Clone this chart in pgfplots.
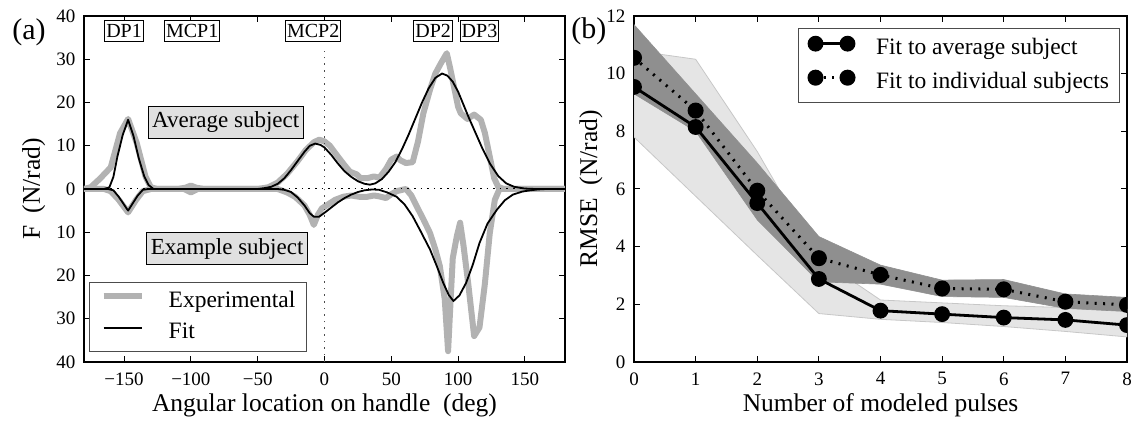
\documentclass[border=0pt]{standalone}
\usepackage{fontspec}
\setmainfont{Liberation Serif}
\usepackage{pgfplots}
\pgfplotsset{compat=1.18}

\definecolor{expgray}{gray}{0.70}
\definecolor{boxgray}{gray}{0.88}
\definecolor{bandlight}{gray}{0.90}
\definecolor{bandedge}{gray}{0.78}
\definecolor{banddark}{gray}{0.56}

\pgfplotsset{
  panel/.style={
    scale only axis, height=173pt,
    axis line style={line width=1pt},
    tick align=inside, major tick length=3pt,
    tick style={black, line width=0.5pt},
    tick label style={font=\fontsize{9.5}{11}\selectfont},
    label style={font=\fontsize{12.75}{15}\selectfont},
    xticklabel style={yshift=-1.7pt},
    yticklabel style={xshift=-0.8pt},
    xlabel style={at={(axis description cs:0.5,-0.1445)}, anchor=base},
    legend cell align=left,
    legend style={font=\fontsize{11.75}{13}\selectfont, draw=black!70,
      line width=0.5pt, fill=white,
      nodes={inner sep=0pt, text height=8.5pt, text depth=2.5pt}},
  },
  exp/.style={expgray, line width=3pt, line join=round},
  fit/.style={black, line width=0.9pt, line join=round},
}

\begin{document}
\begin{tikzpicture}
\useasboundingbox (0,0) rectangle (567.5pt,211pt);

% ---------------- panel (a)
\begin{axis}[panel, width=240.5pt, at={(42pt,30pt)}, anchor=south west,
  xmin=-180, xmax=180, ymin=-40, ymax=40,
  xtick={-150,-100,...,150}, xticklabels={−150,−100,−50,0,50,100,150},
  ytick={-40,-30,...,40}, yticklabels={40,30,20,10,0,10,20,30,40},
  xlabel={Angular location on handle\ \ (deg)},
  ylabel={F\ \ (N/rad)},
  ylabel style={at={(axis description cs:-0.0915,0.5)}, anchor=base},
  legend style={at={(axis description cs:0.0104,0.029)}, anchor=south west,
    inner xsep=5.5pt, inner ysep=3.8pt, row sep=4.85pt},
  legend image code/.code={\draw[#1] (0pt,2.6pt) -- (19.2pt,2.6pt); \path (31.1pt,2.6pt);},
]
% average subject, experimental
\addplot[exp] coordinates {
 (-180,0) (-175,0.4) (-168,2.4) (-160,5) (-153,12.9) (-147,16.2) (-140.5,10.6)
 (-134,2.9) (-130,0.4) (-125,0) (-110,0) (-104,0.3) (-100,0.8) (-96,0.3) (-90,0)
 (-50,0) (-42,0.4) (-35,1.5) (-28,3.5) (-20,6.5) (-14,9) (-8,10.8) (-4,11.4)
 (0,11) (4,10) (10,7.5) (15,5.5) (19,4) (24,3.4) (27,2.5) (32,2.5) (37,2.9)
 (41,2.6) (46,4.6) (50,6.8) (54,7.5) (57,6.6) (61,6) (66,6.2) (70,11) (74,17.5)
 (79,23) (83,26.7) (87,29) (91.5,31.4) (94,28) (97,23.5) (100,19) (102,17.5)
 (107,16.2) (112,17.2) (117,16) (120,13) (123,8.5) (127,2.5) (130,0.5) (134,0)
 (180,0)};
\addlegendentry{Experimental}
% example subject, experimental (drawn downwards)
\addplot[exp, forget plot] coordinates {
 (-180,0) (-165,0) (-160,-0.5) (-154,-2.5) (-147,-5.4) (-141,-2.5) (-136,-0.5)
 (-130,0) (-105,0) (-100,-0.8) (-95,0) (-35,0) (-28,-0.8) (-22,-1.8) (-15,-3.8)
 (-11,-6) (-8,-8.3) (-5,-6) (-2,-4.5) (3,-3.5) (8,-2.5) (14,-1.8) (20,-1.5)
 (26,-1.8) (32,-1.8) (37,-1.5) (41,-1.7) (46,-2.1) (50,-1.2) (54,-0.5) (58,-0.2)
 (61,0) (65,-1.5) (69,-4) (74,-7) (79,-10.2) (83,-14) (86.3,-17.8) (90,-25.5)
 (92.5,-37.5) (94.5,-25) (96,-16) (99,-11) (101.5,-7.8) (104,-13) (107.5,-21.7)
 (112,-34) (116,-32) (120,-22) (123.7,-10.2) (127.5,-2.5) (131,0) (180,0)};
% average subject, fit
\addplot[fit] coordinates {
 (-180,0) (-165,0) (-161,0.4) (-158,2.8) (-155,7.5) (-151,12.5) (-147,16)
 (-143,12.3) (-139,7.1) (-135,3) (-131.6,0.9) (-128,0) (-50,0) (-45,0.2)
 (-40,0.5) (-35,1.2) (-30,2.5) (-25,4.4) (-20,6.5) (-15,8.6) (-11,10) (-7,10.5)
 (-3,10.2) (0,9.6) (5,7.9) (10,5.9) (15,4.1) (20,2.8) (25,1.8) (30,1.2) (34,1.0)
 (38,1.3) (43,2.3) (48,4.0) (53,6.2) (58,9.2) (63,12.6) (68,16.3) (73,20)
 (78,23.3) (83,25.7) (88,26.7) (92,26.2) (96,24.8) (100,22.5) (104,19.5)
 (108,16.5) (113,13) (118,9.5) (124,5.8) (130,3) (136,1.3) (142,0.5) (150,0.1)
 (158,0) (180,0)};
\addlegendentry{Fit}
% example subject, fit
\addplot[fit, forget plot] coordinates {
 (-180,0) (-162,0) (-158,-0.3) (-154,-1.8) (-147,-5) (-140,-1.6) (-136,-0.2)
 (-132,0) (-35,0) (-30,-0.2) (-25,-0.7) (-20,-2) (-15,-3.8) (-11,-5.6) (-8,-6.4)
 (-4,-6.4) (0,-5.5) (5,-4.3) (10,-3.1) (15,-2.1) (20,-1.3) (25,-0.7) (30,-0.3)
 (36,-0.1) (41,-0.2) (47,-0.8) (54,-1.8) (60,-3.6) (66,-6.3) (72,-9.8) (79,-14)
 (84,-17.8) (89,-21.8) (93,-24.5) (96.5,-25.9) (101,-24.6) (106,-21.7)
 (111,-17.5) (116,-12.5) (122,-8) (129,-4.8) (135,-2.6) (141,-1.3) (148,-0.6)
 (154,-0.3) (160,-0.1) (166,0) (180,0)};
% zero lines
\addplot[black, line width=0.5pt, dash pattern=on 0.8pt off 2.5pt, forget plot]
 coordinates {(-180,0) (180,0)};
\addplot[black!70, line width=0.6pt, dash pattern=on 0.8pt off 2.5pt, forget plot]
 coordinates {(0,-40) (0,32)};
% annotations
\tikzset{pulse/.style={draw=black, fill=white, line width=0.5pt,
  font=\fontsize{10}{12}\selectfont, inner xsep=0.8pt, inner ysep=0pt, minimum height=10.5pt},
  subj/.style={draw=black, fill=boxgray, line width=0.5pt,
  font=\fontsize{11.5}{13}\selectfont, inner xsep=2pt, inner ysep=0pt, minimum height=15.75pt}}
\node[pulse] at (axis cs:-150,36.5) {DP1};
\node[pulse] at (axis cs:-99,36.5) {MCP1};
\node[pulse] at (axis cs:-8.5,36.5) {MCP2};
\node[pulse] at (axis cs:81.3,36.5) {DP2};
\node[pulse] at (axis cs:116,36.5) {DP3};
\node[subj] at (axis cs:-73.9,15.4) {Average subject};
\node[subj] at (axis cs:-72.9,-13.8) {Example subject};
\end{axis}

% ---------------- panel (b)
\begin{axis}[panel, width=246.5pt, at={(317pt,30pt)}, anchor=south west,
  xmin=0, xmax=8, ymin=0, ymax=12,
  xtick={0,1,2,3,4,5,6,7,8}, xticklabels={0,1,2,3,4,5,6,7,8},
  ytick={0,2,4,6,8,10,12}, yticklabels={0,2,4,6,8,10,12},
  xlabel={Number of modeled pulses},
  ylabel={RMSE\ \ (N/rad)},
  ylabel style={at={(axis description cs:-0.075,0.5)}, anchor=base},
  clip marker paths=true,
  legend style={at={(axis description cs:0.3333,0.9645)}, anchor=north west,
    inner xsep=5.1pt, inner ysep=4.2pt, row sep=5.65pt},
  legend image code/.code={\draw[#1] plot coordinates {(0pt,2.6pt) (16pt,2.6pt)}; \path (29.5pt,2.6pt);},
]
% spread of the fit to the average subject
\addplot[fill=bandlight, draw=bandedge, line width=0.4pt, forget plot] coordinates {
 (0,10.8) (1,10.5) (2,7.3) (3,3.6) (4,2.15) (5,2.05) (6,1.95) (7,1.89) (8,1.83)
 (8,0.87) (7,1.06) (6,1.23) (5,1.37) (4,1.48) (3,1.68) (2,3.7) (1,5.75) (0,7.8)} --cycle;
% spread of the fits to individual subjects
\addplot[fill=banddark, draw=banddark, line width=0.3pt, forget plot] coordinates {
 (0,11.7) (1,9.3) (2,6.9) (3,4.35) (4,3.36) (5,2.84) (6,2.86) (7,2.36) (8,2.24)
 (8,1.75) (7,1.86) (6,2.24) (5,2.27) (4,2.7) (3,2.78) (2,4.93) (1,8.0) (0,9.3)} --cycle;
\addplot[black, line width=1.4pt, mark=*, mark size=3.25pt, mark options={solid}] coordinates {
 (0,9.54) (1,8.15) (2,5.51) (3,2.88) (4,1.78) (5,1.66) (6,1.54) (7,1.46) (8,1.28)};
\addlegendentry{Fit to average subject}
\addplot[black, line width=1.5pt, dash pattern=on 1pt off 3.2pt, mark=*, mark size=3.25pt, mark options={solid}] coordinates {
 (0,10.55) (1,8.72) (2,5.94) (3,3.6) (4,3.02) (5,2.55) (6,2.52) (7,2.09) (8,1.98)};
\addlegendentry{Fit to individual subjects}
\end{axis}

\node[font=\fontsize{15}{18}\selectfont] at (14.5pt,194.75pt) {(a)};
\node[font=\fontsize{15}{18}\selectfont] at (294.4pt,195.2pt) {(b)};
\end{tikzpicture}
\end{document}
